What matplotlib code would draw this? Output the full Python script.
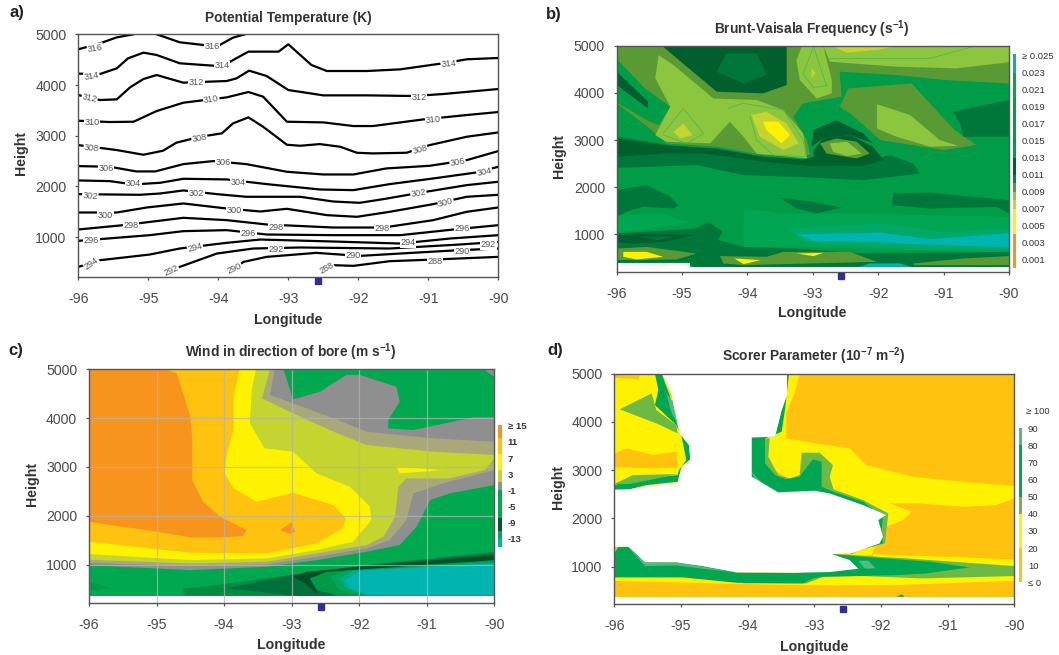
import matplotlib
matplotlib.use('Agg')
import matplotlib.pyplot as plt

plt.rcParams['font.family'] = ['Liberation Sans', 'DejaVu Sans']
plt.rcParams['mathtext.fontset'] = 'custom'
plt.rcParams['mathtext.bf'] = 'Liberation Sans:bold'
plt.rcParams['mathtext.rm'] = 'Liberation Sans'
plt.rcParams['axes.unicode_minus'] = False

W, H = 1059, 655
XTICKS = [-96, -95, -94, -93, -92, -91, -90]
YTICKS = [1000, 2000, 3000, 4000, 5000]
SITE_LON = -92.57

# ---------- panel a: potential temperature contours (lon, height)
a_316a = [(-96,4704),(-95.69,4822),(-95.45,4940),(-95.21,5000)]
a_316b = [(-94.88,5000),(-94.55,4842),(-94.21,4789),(-93.98,4789),(-93.79,4934),(-93.62,5000)]
a_314 = [(-96,4224),(-95.69,4217),(-95.45,4329),(-95.29,4526),(-95.07,4638),(-94.88,4592),(-94.55,4428),(-94.07,4381),(-93.83,4460),(-93.57,4658),(-93.14,4658),(-93,4803),(-92.67,4395),(-92.45,4276),(-91.88,4276),(-91.4,4309),(-90.79,4428),(-90.45,4507),(-90,4533)]
a_312 = [(-96,3802),(-95.69,3704),(-95.45,3717),(-95.26,3954),(-95.07,4118),(-94.88,4197),(-94.5,4046),(-93.88,4079),(-93.74,4131),(-93.56,4283),(-93.31,4178),(-93,3901),(-92.5,3796),(-91.88,3796),(-91.21,3783),(-90.79,3822),(-90,3921)]
a_310 = [(-96,3296),(-95.55,3270),(-95.21,3276),(-94.88,3487),(-94.5,3651),(-93.88,3756),(-93.57,3862),(-93.36,3770),(-93.02,3276),(-92.5,3263),(-92.07,3191),(-91.79,3191),(-91.07,3322),(-90.45,3408),(-90,3467)]
a_308 = [(-96,2815),(-95.45,2717),(-95.07,2625),(-94.79,2704),(-94.6,2862),(-94.26,2980),(-93.95,3046),(-93.79,3243),(-93.57,3362),(-93.36,3177),(-93.02,2822),(-92.83,2802),(-92.55,2835),(-92.26,2783),(-92.02,2664),(-91.79,2651),(-91.31,2664),(-90.98,2815),(-90.45,2980),(-90,3065)]
a_306 = [(-96,2401),(-95.55,2388),(-95.17,2296),(-94.9,2296),(-94.5,2440),(-94.07,2500),(-93.6,2440),(-93.02,2289),(-92.5,2236),(-92.07,2236),(-91.6,2355),(-90.98,2407),(-90.45,2519),(-90,2697)]
a_304 = [(-96,2118),(-95.55,2105),(-95.21,2039),(-94.83,2072),(-94.5,2151),(-93.88,2138),(-93.31,2046),(-92.55,1940),(-92.07,1927),(-91.55,2046),(-90.93,2157),(-90.31,2276),(-90,2388)]
a_302 = [(-96,1848),(-95.12,1835),(-94.83,1861),(-94.5,1921),(-94.02,1848),(-93.6,1796),(-92.83,1796),(-92.36,1703),(-91.98,1677),(-91.64,1750),(-91.12,1875),(-90.45,2026),(-90,2092)]
a_300 = [(-96,1486),(-95.45,1486),(-95.02,1585),(-94.5,1664),(-93.88,1565),(-93.4,1506),(-93.02,1559),(-92.45,1434),(-92.02,1401),(-91.55,1500),(-90.93,1651),(-90.45,1796),(-90,1835)]
a_298 = [(-96,1151),(-95.36,1236),(-94.5,1381),(-93.88,1335),(-93.31,1250),(-92.36,1190),(-91.64,1190),(-90.93,1335),(-90.45,1500),(-90,1585)]
a_296 = [(-96,927),(-94.98,1039),(-94.5,1118),(-93.88,1138),(-93.31,1052),(-92.36,1039),(-91.4,1039),(-90.64,1151),(-90,1236)]
a_294 = [(-96,414),(-95.69,545),(-94.98,657),(-94.55,776),(-93.88,888),(-93.4,953),(-92.36,914),(-91.4,874),(-90.69,973),(-90,1039)]
a_292 = [(-94.67,335),(-94.55,414),(-94.02,677),(-93.5,776),(-92.83,796),(-91.55,776),(-90.55,855),(-90,907)]
a_290 = [(-93.77,381),(-93.64,512),(-93.31,611),(-92.6,690),(-91.98,630),(-91.4,677),(-90.6,740),(-90,776)]
a_288 = [(-92.45,381),(-92.36,447),(-92.07,434),(-91.55,526),(-90.93,558),(-90,611)]
a_lines = [a_316a,a_316b,a_314,a_312,a_310,a_308,a_306,a_304,a_302,a_300,a_298,a_296,a_294,a_292,a_290,a_288]

a_label_text = ['316','316','314','314','314','312','312','312','310','310','310','308','308','308','306','306','306','304','304','304','302','302','302','300','300','300','298','298','298','296','296','296','294','294','294','292','292','292','290','290','290','288','288']
a_label_lon = [-95.76,-94.09,-95.81,-93.95,-90.71,-95.84,-94.31,-91.13,-95.8,-94.1,-90.93,-95.81,-94.27,-91.12,-95.6,-93.93,-90.58,-95.21,-93.72,-90.2,-95.83,-94.31,-91.14,-95.61,-93.77,-90.75,-95.25,-93.18,-91.66,-95.81,-93.57,-90.52,-95.81,-94.33,-91.29,-94.67,-93.18,-90.14,-93.77,-92.08,-90.52,-92.45,-90.9]
a_label_h = [4724,4757,4178,4381,4414,3737,4059,3763,3263,3717,3322,2763,2960,2717,2355,2467,2473,2059,2079,2289,1815,1861,1861,1433,1519,1684,1223,1190,1177,927,1072,1164,480,789,888,335,762,855,381,630,710,381,526]
a_label_rot = [8,0,10,0,5,-12,0,0,0,8,5,-5,10,15,0,0,10,0,0,12,-5,0,10,0,0,15,0,0,0,0,0,0,35,15,0,25,0,0,25,0,0,30,0]

# ---------- colours
ORANGE, AMBER, YELLOW = '#f7941d', '#ffc20e', '#fff200'
OLIVEY, LIME, OLIVE = '#c4d52f', '#8cc63f', '#5a9a35'
MAIN, BRIGHT, DARK, DARKEST = '#009c47', '#00a651', '#00773a', '#00602d'
TEAL, TEALRING, GRAY, KHAKI = '#00b5b0', '#00a86a', '#8f8f8f', '#a8a87a'
LEAF, PALE = '#6cb944', '#56b885'

# ---------- panel b: Brunt-Vaisala regions (lon, height)
b_base = [(-96,404),(-94.88,404),(-94.88,313),(-90,313),(-90,5000),(-96,5000)]
b_dark_left = [(-96,1940),(-95.54,2045),(-95.18,1800),(-95.06,1620),(-95.13,1550),(-95.6,1585),(-95.85,1480),(-96,1373)]
b_dark_mid = [(-93.5,1775),(-92.99,1690),(-92.56,1565),(-92.94,1445),(-93.25,1550)]
b_dark_right = [(-91.77,1870),(-91.21,1885),(-90,1725),(-90,1445),(-90.19,1585),(-91.21,1550),(-91.79,1620)]
b_bright = [(-94.06,1515),(-93.86,1515),(-93.5,1445),(-92.23,1445),(-91.21,1410),(-90,1375),(-90,600),(-92.23,700),(-93.25,735),(-94.06,735)]
b_bright_left = [(-96,1400),(-95.3,1450),(-94.9,1250),(-95.6,1100),(-96,1050)]
b_tealring = [(-93.38,1125),(-91.97,1230),(-90.95,1050),(-90,1125),(-90,666),(-91.21,666),(-92.23,735),(-93.15,840)]
b_teal = [(-93.25,1000),(-91.97,1040),(-91.21,900),(-90,1025),(-90,730),(-91.21,780),(-92.23,850),(-92.99,860)]
b_lowdark = [(-96,1020),(-94.78,1125),(-94.6,1270),(-94.38,1060),(-94.45,880),(-94.06,735),(-93.25,700),(-92.23,595),(-90,630),(-90,313),(-94.83,313),(-94.88,404),(-96,404)]
b_lowdarkest = [(-96,985),(-95.54,1020),(-94.83,985),(-95.29,840),(-95.8,805),(-96,840)]
b_lowinner = [(-95.64,950),(-95.08,950),(-95.38,880)]
b_low1 = [(-96,700),(-95.54,735),(-94.78,595),(-95.08,470),(-96,455)]
b_low1y = [(-95.9,630),(-95.54,630),(-95.29,525),(-95.7,470),(-95.9,525)]
b_low2 = [(-94.42,540),(-93.71,525),(-93.45,630),(-92.43,630),(-92.02,420),(-94.06,350),(-94.37,385)]
b_low2y = [(-94.2,490),(-93.8,455),(-94.06,370)]
b_low3y = [(-93.25,595),(-92.84,610),(-92.99,540)]
b_low4 = [(-91.46,385),(-90.7,490),(-90,540),(-90,350),(-91.46,350)]
b_lowteal = [(-92.3,313),(-92.13,385),(-91.67,385),(-91.5,313)]
b_upper_dark = [(-96,2410),(-94.78,2470),(-94.06,2257),(-93.25,2220),(-92.23,2150),(-91.36,2290),(-91.46,2505),(-91.72,2650),(-90,2650),(-90,5000),(-96,5000)]
b_upper_main = [(-96,5000),(-90,5000),(-90,2505),(-90.7,2575),(-91.46,2505),(-91.82,2680),(-92.13,2575),(-93.09,2575),(-94.01,2680),(-94.67,2820),(-95.18,2890),(-96,3070)]
b_band = [(-96,2645),(-95.29,2715),(-94.67,2715),(-93.76,2540),(-93.09,2455),(-92.23,2455),(-91.92,2575),(-92.08,2860),(-92.43,3105),(-92.84,3035),(-92.99,2787),(-92.99,2645),(-93.15,2590),(-93.76,2645),(-94.47,2820),(-95.29,2890),(-96,3035)]
b_patch = [(-92.99,3210),(-92.64,3420),(-92.23,3140),(-92.08,2930),(-92.43,3105),(-92.84,3035),(-93.02,2860)]
b_olive = [(-96,5000),(-90,5000),(-90,4200),(-90.95,4270),(-91.72,4378),(-92.59,4450),(-92.56,3920),(-93.15,3780),(-93.3,3494),(-93.09,3000),(-93.04,2680),(-93.76,2680),(-94.47,2860),(-95.24,2930),(-95.54,3295),(-96,3775)]
b_olive2 = [(-92.46,4095),(-91.49,4200),(-90.83,3210),(-90.5,2895),(-91.0,2787),(-91.97,3000),(-92.43,3565),(-92.59,3700)]
b_topdark = [(-95.31,5000),(-94.47,4024),(-93.76,3990),(-93.4,4165),(-93.4,5000)]
b_topinner = [(-94.32,4840),(-93.86,4840),(-93.71,4378),(-94.06,4200),(-94.47,4450)]
b_leftmain = [(-96,4720),(-95.57,4095),(-95.18,3705),(-95.36,3317),(-95.54,3420),(-96,3800)]
b_diag = [(-96,4450),(-95.52,3810),(-95.52,3670),(-96,4165)]
b_darkright = [(-90.85,3600),(-90,3850),(-90,3070),(-90.7,3070),(-90.75,3350)]
b_light1 = [(-95.36,4800),(-95.13,4590),(-94.52,3880),(-93.86,3850),(-93.45,3635),(-93.15,3140),(-93.09,2610),(-93.86,2715),(-94.06,3070),(-94.27,3390),(-94.57,2930),(-95.24,2965),(-95.41,3105),(-95.18,3705),(-95.41,4310)]
b_light2 = [(-93.17,4980),(-92.84,4980),(-92.71,4270),(-92.71,3990),(-92.94,3880),(-93.2,4270),(-93.25,4695)]
b_light2b = [(-92.84,5000),(-90,5000),(-90,4650),(-90.8,4520),(-91.72,4555),(-92.74,4660)]
b_light3 = [(-92.02,3760),(-91.51,3530),(-91.06,3000),(-90.78,2880),(-91.21,2860),(-91.72,3070),(-92.02,3245)]
b_swirl = [(-92.89,2930),(-92.64,3035),(-92.33,2965),(-92.13,2715),(-92.33,2610),(-92.79,2715)]
b_swirl_light = [(-92.74,2930),(-92.48,2965),(-92.25,2715),(-92.48,2660),(-92.69,2750)]
b_yg1 = [(-93.94,3530),(-93.71,3600),(-93.4,3350),(-93.22,2930),(-93.45,2790),(-93.81,3070)]
b_y1 = [(-93.76,3390),(-93.53,3390),(-93.35,3105),(-93.48,2930),(-93.71,3210)]
b_yg2 = [(-95.13,3175),(-94.98,3350),(-94.84,3105),(-95.03,3035)]
b_yg3 = [(-93.02,4520),(-92.96,4415),(-93.02,4305)]
b_topy = [(-92.71,5000),(-91.72,5000),(-91.97,4920),(-92.48,4850)]
b_thin1 = [(-95.29,3140),(-94.98,3670),(-94.67,3140),(-94.93,2930),(-95.29,3105)]
b_thin2 = [(-94.3,3670),(-94.07,3780),(-93.45,3635),(-93.15,3000),(-93.1,2650),(-93.6,2680),(-93.86,3000),(-93.96,3500)]
b_thin3 = [(-93.15,4400),(-92.99,4980),(-92.79,4150),(-92.99,4115),(-93.15,4400)]
b_thin4 = [(-92.74,4730),(-91.21,4730),(-90.55,4980)]
b_layers = [(b_base,MAIN),(b_bright,BRIGHT),(b_bright_left,BRIGHT),(b_dark_left,DARK),(b_dark_mid,DARK),(b_dark_right,DARK),
    (b_tealring,TEALRING),(b_teal,TEAL),(b_lowdark,DARK),(b_lowdarkest,DARKEST),(b_lowinner,DARK),
    (b_low1,OLIVE),(b_low1y,YELLOW),(b_low2,OLIVE),(b_low2y,YELLOW),(b_low3y,YELLOW),(b_low4,OLIVE),(b_lowteal,TEAL),
    (b_upper_dark,DARK),(b_upper_main,MAIN),(b_band,DARKEST),(b_patch,DARKEST),(b_olive,OLIVE),(b_olive2,OLIVE),
    (b_topdark,DARKEST),(b_topinner,DARK),(b_leftmain,MAIN),(b_diag,DARKEST),(b_darkright,DARK),(b_light1,LIME),(b_light2,LIME),
    (b_light2b,LIME),(b_light3,LIME),(b_swirl,OLIVE),(b_swirl_light,LIME),(b_yg1,OLIVEY),(b_y1,YELLOW),(b_yg2,OLIVEY),(b_yg3,OLIVEY),(b_topy,OLIVEY)]
b_thin = [b_thin1,b_thin2,b_thin3,b_thin4]

# ---------- panel c: wind regions (lon, height)
c_base = [(-96,362),(-90,362),(-90,5000),(-96,5000)]
c_left_patch = [(-96,650),(-95.66,513),(-96,480)]
c_g2 = [(-94.6,513),(-94.11,581),(-93.03,786),(-91.89,990),(-90,1264),(-90,362),(-94.6,362)]
c_dark = [(-93.96,513),(-93.03,786),(-91.89,990),(-90,1230),(-90,1000),(-91.89,820),(-92.38,362),(-92.98,362),(-93.47,445)]
c_darkest = [(-92.98,752),(-92.78,854),(-91.89,970),(-90,1196),(-90,1040),(-91.89,888),(-92.58,752),(-92.63,410),(-92.8,615)]
c_r1 = [(-92.73,718),(-92.48,854),(-90,1093),(-90,362),(-92.29,362),(-92.63,478)]
c_r2 = [(-92.43,752),(-92.19,875),(-90,1060),(-90,362),(-91.94,362),(-92.29,478)]
c_r3 = [(-92.29,718),(-92.09,875),(-90,1040),(-90,362),(-91.79,362),(-92.19,513)]
c_teal = [(-92.21,684),(-91.99,875),(-90,1025),(-90,376),(-91.89,376),(-92.14,513)]
c_gray = [(-96,990),(-94.5,888),(-93.37,957),(-92.63,1093),(-91.89,1264),(-91.4,1401),(-91.15,1776),(-90.95,2323),(-90.66,2459),(-90,2630),(-90,5000),(-96,5000)]
c_greentop = [(-93.12,5000),(-90.16,5000),(-90,4850),(-90,4016),(-90.31,4016),(-91.2,3757),(-91.57,3791),(-91.57,3962),(-91.4,4338),(-91.45,4645),(-91.99,4884),(-92.19,4884),(-92.58,4542),(-92.98,4385)]
c_khaki = [(-96,1040),(-94.5,970),(-93.37,1004),(-92.63,1161),(-91.89,1332),(-91.55,1503),(-91.3,1913),(-91.2,2459),(-90.76,2664),(-90,2937),(-90,3518),(-90.9,3586),(-91.89,3723),(-92.38,3996),(-92.98,4303),(-93.32,4474),(-93.25,5000),(-96,5000)]
c_olive = [(-96,1100),(-94.5,1025),(-93.37,1059),(-92.63,1230),(-91.89,1401),(-91.64,1572),(-91.47,1981),(-91.42,2596),(-91.3,2767),(-90.66,2767),(-90.14,2937),(-90,3176),(-90,3245),(-90.9,3313),(-91.89,3450),(-92.38,3723),(-92.98,4098),(-93.44,4406),(-93.32,5000),(-96,5000)]
c_yellow = [(-96,1216),(-94.5,1093),(-93.37,1127),(-92.63,1298),(-92.09,1469),(-91.82,1913),(-91.84,2186),(-92.14,2596),(-92.63,2869),(-92.98,3313),(-93.4,3381),(-93.62,3894),(-93.59,4576),(-93.53,5000),(-96,5000)]
c_ytip = [(-91.45,3006),(-90.76,2937),(-91.4,2869)]
c_amber = [(-96,1469),(-94.5,1244),(-93.37,1230),(-92.63,1435),(-92.24,1742),(-92.2,1947),(-92.38,2220),(-92.98,2473),(-93.52,2288),(-93.86,2562),(-93.99,2869),(-93.96,3279),(-93.86,3757),(-93.86,4440),(-93.77,5000),(-96,5000)]
c_orange = [(-96,5000),(-94.88,5000),(-94.7,4918),(-94.5,4030),(-94.47,3552),(-94.47,2732),(-94.31,2288),(-94.06,1981),(-93.67,1708),(-93.72,1585),(-94.06,1558),(-94.5,1558),(-95.15,1708),(-95.69,1810),(-96,1879)]
c_orange2 = [(-93.17,1708),(-93,1865),(-92.95,1674),(-93.03,1626)]
c_layers = [(c_base,'#00a94f'),(c_left_patch,'#009a48'),(c_g2,'#008c42'),(c_dark,'#00703a'),(c_darkest,'#004f27'),(c_r1,'#009a48'),
    (c_r2,'#00a65a'),(c_r3,'#00ad8a'),(c_teal,TEAL),(c_gray,GRAY),(c_greentop,'#00a94f'),(c_khaki,KHAKI),(c_olive,OLIVEY),
    (c_yellow,YELLOW),(c_ytip,YELLOW),(c_amber,AMBER),(c_orange,ORANGE),(c_orange2,ORANGE)]

# ---------- panel d: Scorer parameter regions (lon, height)
d_base = [(-96,363),(-90,363),(-90,5000),(-96,5000)]
d_yel_left = [(-96,5000),(-95.27,5000),(-94.82,3224),(-94.99,2671),(-96,2588)]
d_amber_top = [(-95.99,4972),(-95.62,4959),(-95.64,4883),(-95.99,4917)]
d_amber_patch = [(-95.99,3348),(-95.82,3452),(-95.42,3314),(-95.07,3383),(-95.05,3058),(-95.37,3038),(-95.99,3058)]
d_yel_right = [(-93.4,5000),(-93.22,5000),(-93.29,4627),(-93.42,4178),(-93.42,3659),(-92.82,3521),(-92.47,3452),(-92.22,3107),(-91.52,2865),(-90.77,2761),(-90,2671),(-90,2416),(-90.27,2277),(-90.77,2243),(-91.42,2312),(-91.87,2312),(-91.54,2139),(-91.67,1967),(-91.92,1828),(-91.97,1483),(-92.09,1414),(-92.14,1241),(-92.44,1241),(-92.77,2312),(-93.77,3141),(-93.77,3659)]
d_yel_band1 = [(-92.12,1262),(-90,1151),(-90,1013),(-92.12,999)]
d_yel_band2 = [(-96,826),(-90,895),(-90,709),(-91.77,619),(-93.27,619),(-94.52,654),(-96,709)]
d_left_dark = [(-95.39,5000),(-95.29,5000),(-95.17,4558),(-95.02,3763),(-94.88,3521),(-94.86,3224),(-94.99,3072),(-95.05,2761),(-95.52,2692),(-95.77,2602),(-96,2602),(-96,2692),(-95.72,2796),(-95.05,2899),(-95.03,3003),(-94.92,3210),(-94.99,3694),(-95.07,3936),(-95.39,4350),(-95.34,4661)]
d_left_wedge = [(-95.92,4261),(-95.44,4592),(-95.37,4247),(-95.07,3936),(-95.05,3763),(-95.37,3970)]
d_left_strip = [(-96,2713),(-95.72,2899),(-95.05,2920),(-95.47,2796),(-95.77,2713)]
d_left_teal = [(-95.22,4592),(-95.12,4420),(-95.05,3970),(-95.14,4178)]
d_mid_light = [(-93.77,3659),(-93.67,3659),(-93.69,3279),(-93.54,2899),(-93.37,2830),(-93.22,2899),(-93.19,3362),(-92.92,3362),(-92.72,3107),(-92.77,2865),(-92.71,2602),(-92.27,2381),(-91.89,2104),(-91.94,1483),(-92.34,1331),(-92.44,1262),(-92.77,2312),(-93.54,2312),(-93.94,2727),(-93.94,3680)]
d_mid_dark = [(-93.41,5000),(-93.38,5000),(-93.44,4247),(-93.49,3798),(-93.74,3659),(-93.74,3141),(-93.59,2899),(-93.42,2810),(-93.22,2865),(-93.09,3107),(-93.02,3224),(-92.89,3176),(-92.89,2657),(-92.72,2554),(-92.27,2347),(-91.97,2036),(-91.99,1759),(-91.97,1483),(-92.34,1345),(-92.44,1262),(-92.77,2381),(-93.54,2471),(-93.94,2796),(-93.94,3680),(-93.59,3694),(-93.49,4247),(-93.41,4558)]
d_mid_teal = [(-93.94,2968),(-93.77,2713),(-93.54,2471),(-93.87,2727)]
d_low_light = [(-92.74,1262),(-91.62,1172),(-90,1013),(-90,806),(-91.37,757),(-92.27,806),(-92.87,792),(-93.12,654),(-94.07,654),(-94.17,757),(-92.34,999)]
d_low_dark = [(-96,1276),(-95.94,1414),(-95.79,1414),(-95.54,1089),(-95.07,1089),(-94.67,1013),(-94.17,882),(-93.27,875),(-92.34,958),(-92.74,1262),(-92.27,1206),(-91.27,1103),(-90.67,985),(-91.32,861),(-91.77,826),(-92.87,792),(-93.02,757),(-93.17,654),(-94.17,667),(-94.97,778),(-96,778)]
d_low_teal1 = [(-92.34,1123),(-92.19,1123),(-92.08,965),(-92.24,958)]
d_low_teal2 = [(-95.79,1414),(-95.54,1089),(-95.07,1089),(-94.17,882),(-94.67,958),(-95.07,1027),(-95.54,1013)]
d_speck = [(-91.77,378),(-91.69,426),(-91.64,378)]
d_white = [(-95.28,5000),(-95.14,4558),(-95.02,3763),(-94.88,3521),(-94.86,3224),(-94.99,3072),(-95.05,2747),(-95.52,2678),(-95.77,2602),(-96,2588),(-96,1414),(-95.79,1414),(-95.54,1089),(-95.07,1089),(-94.67,1013),(-94.17,882),(-93.27,875),(-92.77,889),(-92.34,958),(-92.47,1137),(-92.74,1262),(-92.44,1276),(-92.02,1483),(-91.97,1621),(-92.04,1967),(-91.92,2070),(-92.27,2277),(-92.77,2519),(-93,2575),(-93.54,2540),(-93.94,2865),(-93.94,3680),(-93.59,3694),(-93.49,4247),(-93.41,4558),(-93.41,5000)]
d_layers = [(d_base,AMBER),(d_yel_left,YELLOW),(d_amber_top,AMBER),(d_amber_patch,AMBER),(d_yel_right,YELLOW),(d_yel_band1,YELLOW),(d_yel_band2,YELLOW),
    (d_left_dark,BRIGHT),(d_left_wedge,LEAF),(d_left_strip,LEAF),(d_left_teal,PALE),(d_mid_light,LEAF),(d_mid_dark,BRIGHT),(d_mid_teal,PALE),
    (d_low_light,LEAF),(d_low_dark,BRIGHT),(d_low_teal1,PALE),(d_speck,BRIGHT),(d_white,'white'),(d_low_teal2,PALE)]

# ---------- colour bars: edges, colours, labels
b_cb_edges = [0,0.004,0.007,0.008,0.009,0.010,0.011,0.013,0.020,0.023,0.0252]
b_cb_cols = [ORANGE,YELLOW,OLIVEY,LIME,OLIVE,'#00873f',DARKEST,MAIN,BRIGHT,TEAL]
b_cb_ticks = [0.001,0.003,0.005,0.007,0.009,0.011,0.013,0.015,0.017,0.019,0.021,0.023,0.025]
b_cb_labels = ['0.001','0.003','0.005','0.007','0.009','0.011','0.013','0.015','0.017','0.019','0.021','0.023','≥ 0.025']
c_cb_edges = [-15,-13,-11,-8,-1,1,4,8,12,15.2]
c_cb_cols = [TEAL,'#00a65a','#005c2b','#00a94f',GRAY,OLIVEY,YELLOW,AMBER,ORANGE]
c_cb_ticks = [-13,-9,-5,-1,3,7,11,15]
c_cb_labels = ['-13','-9','-5','-1','3','7','11','≥ 15']
d_cb_edges = [0,20,40,50,80,90]
d_cb_cols = [AMBER,YELLOW,LEAF,BRIGHT,PALE]
d_cb_ticks = [0,10,20,30,40,50,60,70,80,90]
d_cb_labels = ['≤ 0','10','20','30','40','50','60','70','80','90']
d_cb_top_label = '≥ 100'


fig = plt.figure(figsize=(W/100, H/100), dpi=100)
TXT = '#4a4a4a'

def px_axes(l, t, r, b):
    return fig.add_axes([l/W, 1-b/H, (r-l)/W, (b-t)/H])

def fill_layers(ax, layers):
    for pts, col in layers:
        xs, ys = zip(*pts)
        ax.fill(xs, ys, color=col, lw=0, zorder=1)

def style(ax, ymin, title, letter, letter_xy, tx, ty, xlab_y, ylab_x):
    ax.set_xlim(-96, -90)
    ax.set_ylim(ymin, 5000)
    ax.set_xticks(XTICKS)
    ax.set_yticks(YTICKS)
    ax.tick_params(length=2.5, width=0.9, colors='#555555', labelcolor=TXT, labelsize=10.2)
    ax.tick_params(axis='x', pad=8.5)
    ax.tick_params(axis='y', pad=6)
    for s in ax.spines.values():
        s.set_color('#555555')
        s.set_linewidth(1.0)
        s.set_zorder(5)
    fig.text(tx/W, 1-ty/H, title, fontsize=9.9, fontweight='bold', color='#333333', ha='center', va='center')
    fig.text(letter_xy[0]/W, 1-letter_xy[1]/H, letter, fontsize=12, fontweight='bold', color='#222222', ha='left', va='center')
    fig.text(tx/W, 1-xlab_y/H, 'Longitude', fontsize=10.2, fontweight='bold', color='#333333', ha='center', va='center')
    pos = ax.get_position()
    fig.text(ylab_x/W, pos.y0+pos.height*0.51, 'Height', rotation=90, fontsize=10.2, fontweight='bold', color='#333333', ha='center', va='center')
    site_off = (4.5 / (pos.height*H)) * (5000-ymin)
    ax.plot([SITE_LON], [ymin-site_off], marker='s', ms=5, color='#2e3192', clip_on=False, zorder=6, ls='none')

def colorbar(l, t, r, b, edges, cols, ticks, labels, bold=False):
    cax = px_axes(l, t, r, b)
    for lo, hi, col in zip(edges[:-1], edges[1:], cols):
        cax.bar(0, hi-lo, bottom=lo, width=1, color=col, lw=0)
    cax.set_xlim(-0.5, 0.5)
    cax.set_ylim(edges[0], edges[-1])
    cax.set_xticks([])
    cax.yaxis.tick_right()
    cax.set_yticks(ticks)
    cax.set_yticklabels(labels, fontsize=6.8, color='#333333', fontweight='bold' if bold else 'normal')
    cax.tick_params(length=0, pad=4)
    for s in cax.spines.values():
        s.set_visible(False)
    cax.patch.set_alpha(0)
    return cax

# panel a
ax = px_axes(78.3, 34.3, 498.3, 276.7)
for line in a_lines:
    xs, ys = zip(*line)
    ax.plot(xs, ys, color='black', lw=1.6, solid_joinstyle='round', zorder=2)
for x, y, t, r in zip(a_label_lon, a_label_h, a_label_text, a_label_rot):
    ax.text(x, y, t, fontsize=6.6, color='#555555', rotation=r, ha='center', va='center', zorder=3,
            bbox=dict(facecolor='white', edgecolor='none', pad=0.4))
style(ax, 220, 'Potential Temperature (K)', 'a)', (10, 13), 288, 18, 320, 21)

# panel b
ax = px_axes(616.7, 45.7, 1009, 271.7)
fill_layers(ax, b_layers)
for line in b_thin:
    xs, ys = zip(*line)
    ax.plot(xs, ys, color='#55b84a', lw=0.6, zorder=2)
style(ax, 210, r'Brunt-Vaisala Frequency (s$^{\mathbf{-1}}$)', 'b)', (546, 15), 812, 29, 313.5, 559.5)
colorbar(1013, 54, 1016.3, 268, b_cb_edges, b_cb_cols, b_cb_ticks, b_cb_labels)

# panel c
ax = px_axes(89, 369.3, 494.3, 602.7)
fill_layers(ax, c_layers)
ax.grid(True, color='#b4b4b4', lw=0.9, alpha=0.75, zorder=3)
ax.set_axisbelow(False)
style(ax, 221, r'Wind in direction of bore (m s$^{\mathbf{-1}}$)', 'c)', (8, 351), 291, 352.5, 645, 32)
colorbar(498.3, 425, 502.3, 546.7, c_cb_edges, c_cb_cols, c_cb_ticks, c_cb_labels, bold=True)

# panel d
ax = px_axes(614.3, 373.7, 1014.3, 604)
fill_layers(ax, d_layers)
style(ax, 227, r'Scorer Parameter (10$^{\mathbf{-7}}$ m$^{\mathbf{-2}}$)', 'd)', (547, 351), 814, 356.5, 647, 558)
colorbar(1018.7, 428, 1022.3, 582.3, d_cb_edges, d_cb_cols, d_cb_ticks, d_cb_labels)
fig.text(1026.5/W, 1-411.5/H, d_cb_top_label, fontsize=6.8, color='#333333', ha='left', va='center')

fig.savefig('out.png', dpi=100)
